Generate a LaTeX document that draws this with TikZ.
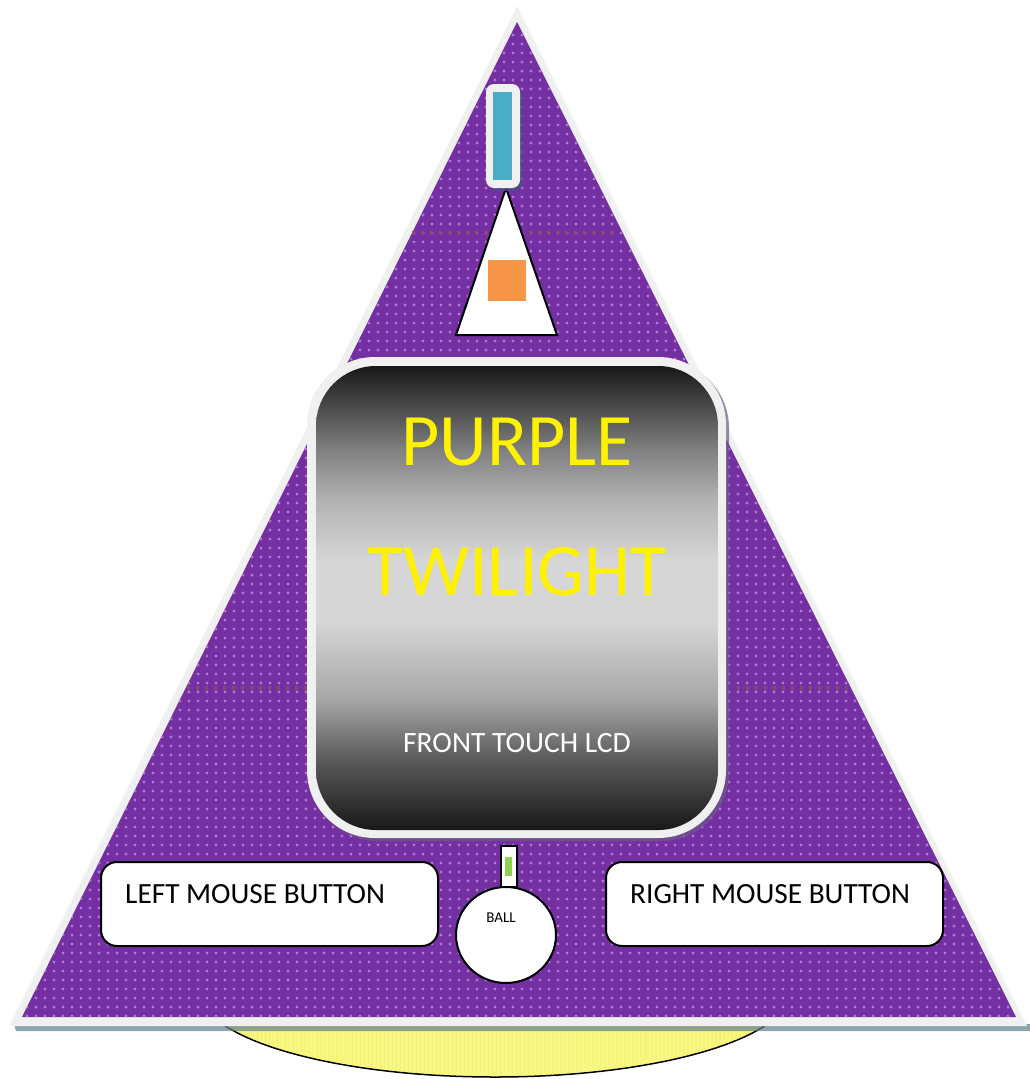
\documentclass[tikz,border=0pt]{standalone}
\usepackage{fontspec}
\setmainfont{Carlito}
\usetikzlibrary{patterns.meta,shapes.geometric}
\definecolor{purp}{HTML}{7430A3}
\definecolor{dotc}{HTML}{AE78D2}
\definecolor{bordergray}{HTML}{F0F0F0}
\definecolor{shadowc}{HTML}{5E7F8C}
\definecolor{lcdshadow}{HTML}{6B5A86}
\definecolor{lcdend}{HTML}{181818}
\definecolor{barteal}{HTML}{4BACC6}
\definecolor{barshadow}{HTML}{4E4A8A}
\definecolor{orangesq}{HTML}{F79646}
\definecolor{greenbit}{HTML}{92D050}
\definecolor{yel}{HTML}{F8F880}
\definecolor{yelstripe}{HTML}{EFEF60}
\definecolor{dotline}{HTML}{8A4A66}
\pgfdeclareverticalshading{lcdshade}{100bp}{color(0bp)=(lcdend); color(25bp)=(lcdend); color(32.5bp)=(black!65); color(39bp)=(black!35); color(47.5bp)=(black!16); color(54bp)=(black!16); color(60.5bp)=(black!30); color(66bp)=(black!50); color(75bp)=(lcdend); color(100bp)=(lcdend)}
\tikzset{
  btnbox/.style={draw=black, line width=2pt, fill=white, rounded corners=16pt,
    minimum width=337pt, minimum height=84pt, inner sep=0pt},
  btntext/.style={font=\fontsize{29.3}{35}\selectfont, text=black, anchor=west, inner sep=0pt},
  bigtext/.style={font=\fontsize{74}{88}\selectfont, text=yellow, inner sep=0pt},
  faintdots/.style={dotline, line width=3.5pt, dash pattern=on 3pt off 6pt, opacity=0.9}
}
\begin{document}
\begin{tikzpicture}[x=1pt,y=-1pt]
\useasboundingbox (0,0) rectangle (1030,1079);
% yellow base
\filldraw[fill=yel, draw=black, line width=1.5pt] (495,990) ellipse [x radius=296, y radius=87];
\fill[pattern={Lines[angle=90,distance=4pt,line width=1.2pt]}, pattern color=yelstripe] (495,990) ellipse [x radius=295, y radius=86];
% shadow strip
\fill[shadowc, opacity=0.7] (14,1024) -- (1030,1024) -- (1030,1031) -- (16,1031) -- cycle;
% main triangle
\fill[bordergray] (517,6) -- (9,1026) -- (1027,1026) -- cycle;
\fill[purp] (517,22) -- (22,1017) -- (1016,1017) -- cycle;
\fill[pattern={Dots[radius=1.6pt,distance=9pt]}, pattern color=dotc] (517,22) -- (22,1017) -- (1016,1017) -- cycle;
% faint dotted rows
\draw[faintdots] (412,233) -- (617,233);
\draw[faintdots] (187,688) -- (310,688);
\draw[faintdots] (737,688) -- (848,688);
% small triangle and orange square
\draw[line width=2pt, fill=white, line join=miter] (506,188) -- (456,335) -- (557,335) -- cycle;
\fill[orangesq] (488,260) rectangle (526,301);
% blue bar
\fill[barshadow, opacity=0.8, rounded corners=8pt] (489,87) rectangle (523,191);
\fill[bordergray, rounded corners=8pt] (486,84) rectangle (520,188);
\fill[barteal] (493,92) rectangle (512,180);
% LCD
\fill[lcdshadow, opacity=0.7, rounded corners=68pt] (310,360) rectangle (729,841);
\fill[bordergray, rounded corners=68pt] (307,357) rectangle (726,838);
\shade[shading=lcdshade, rounded corners=60pt] (316,366) rectangle (718,830);
\node[bigtext] (purple) at (517,442) {PURPLE};
\node[bigtext] (twilight) at (517,572) {TWILIGHT};
\node[font=\fontsize{29.5}{35}\selectfont, text=white, inner sep=0pt] (lcd) at (517,743) {FRONT TOUCH LCD};
% buttons
\node[btnbox] (lbtn) at (269.5,904) {};
\node[btntext] (ltxt) at (125,894) {LEFT MOUSE BUTTON};
\node[btnbox] (rbtn) at (774.5,904) {};
\node[btntext] (rtxt) at (630,894) {RIGHT MOUSE BUTTON};
% ball and stem
\node[draw=black, line width=2pt, fill=white, minimum width=16pt, minimum height=41pt, inner sep=0pt] (stem) at (509,866) {};
\fill[greenbit] (505,857) rectangle (512,876);
\node[ellipse, draw=black, line width=2pt, fill=white, minimum width=100pt, minimum height=96pt, inner sep=0pt] (ball) at (506,935) {};
\node[font=\fontsize{15}{18}\selectfont, inner sep=0pt] (balltxt) at (501,918) {BALL};
\end{tikzpicture}
\end{document}
